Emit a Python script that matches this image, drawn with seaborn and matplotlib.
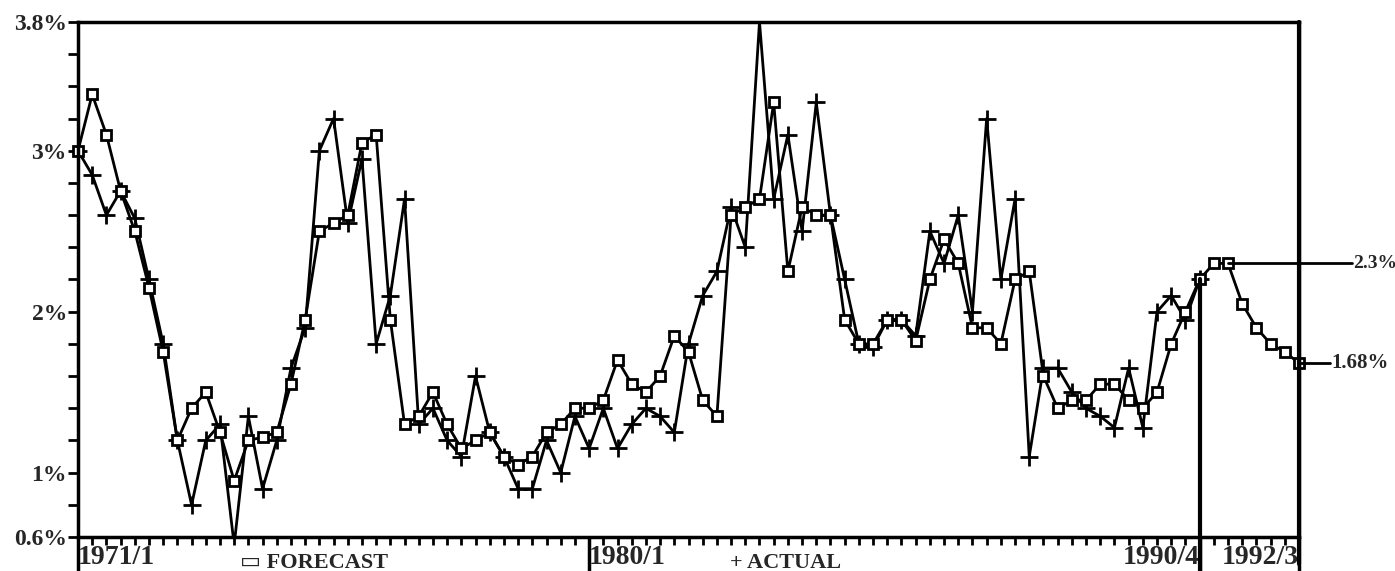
import matplotlib
matplotlib.use("Agg")
import matplotlib.pyplot as plt
import numpy as np
import pandas as pd
import seaborn as sns

# ==============================================================================
# Data: quarterly values, 1971/1 .. 1992/3 (forecast), 1971/1 .. 1990/4 (actual)
# ==============================================================================
start_year = 1971
forecast = [
    3.00, 3.35, 3.10, 2.75, 2.50, 2.15, 1.75, 1.20, 1.40, 1.50,
    1.25, 0.95, 1.20, 1.22, 1.25, 1.55, 1.95, 2.50, 2.55, 2.60,
    3.05, 3.10, 1.95, 1.30, 1.35, 1.50, 1.30, 1.15, 1.20, 1.25,
    1.10, 1.05, 1.10, 1.25, 1.30, 1.40, 1.40, 1.45, 1.70, 1.55,
    1.50, 1.60, 1.85, 1.75, 1.45, 1.35, 2.60, 2.65, 2.70, 3.30,
    2.25, 2.65, 2.60, 2.60, 1.95, 1.80, 1.80, 1.95, 1.95, 1.82,
    2.20, 2.45, 2.30, 1.90, 1.90, 1.80, 2.20, 2.25, 1.60, 1.40,
    1.45, 1.45, 1.55, 1.55, 1.45, 1.40, 1.50, 1.80, 2.00, 2.20,
    2.30, 2.30, 2.05, 1.90, 1.80, 1.75, 1.68,
]
actual = [
    3.00, 2.85, 2.60, 2.75, 2.58, 2.20, 1.80, 1.20, 0.80, 1.20,
    1.30, 0.55, 1.35, 0.90, 1.20, 1.65, 1.90, 3.00, 3.20, 2.55,
    2.95, 1.80, 2.10, 2.70, 1.30, 1.40, 1.20, 1.10, 1.60, 1.25,
    1.10, 0.90, 0.90, 1.20, 1.00, 1.35, 1.15, 1.40, 1.15, 1.30,
    1.40, 1.35, 1.25, 1.80, 2.10, 2.25, 2.65, 2.40, 3.80, 2.70,
    3.10, 2.50, 3.30, 2.60, 2.20, 1.80, 1.78, 1.95, 1.95, 1.85,
    2.50, 2.30, 2.60, 2.00, 3.20, 2.20, 2.70, 1.10, 1.65, 1.65,
    1.50, 1.40, 1.35, 1.28, 1.65, 1.28, 2.00, 2.10, 1.95, 2.20,
]
tick_labels = ["1971/1", "1980/1", "1990/4", "1992/3"]
y_labels = ["0.6%", "1%", "2%", "3%", "3.8%"]
y_label_values = [0.6, 1.0, 2.0, 3.0, 3.8]
peak_label = "2.3%"
last_label = "1.68%"


def quarter_index(label):
    year, q = label.split("/")
    return (int(year) - start_year) * 4 + int(q) - 1


df_f = pd.DataFrame({"q": np.arange(len(forecast)), "value": forecast})
df_a = pd.DataFrame({"q": np.arange(len(actual)), "value": actual})

# ==============================================================================
# Figure
# ==============================================================================
sns.set_style("white")
plt.rcParams["font.family"] = ["Liberation Serif", "DejaVu Sans"]
plt.rcParams["font.weight"] = "bold"

fig = plt.figure(figsize=(13.95, 5.71), dpi=100)
ax = fig.add_axes([78 / 1395, 1 - 537 / 571, 1221 / 1395, 515 / 571])

sns.lineplot(data=df_a, x="q", y="value", ax=ax, color="black", linewidth=2.0,
             marker="+", markersize=13, markeredgecolor="black",
             markeredgewidth=2.0, clip_on=True)
sns.lineplot(data=df_f, x="q", y="value", ax=ax, color="black", linewidth=2.0,
             marker="s", markersize=7, markerfacecolor="white",
             markeredgecolor="black", markeredgewidth=2.0, clip_on=False)

ax.set_xlim(0, len(forecast) - 1)
ax.set_ylim(0.6, 3.8)
ax.set_xlabel("")
ax.set_ylabel("")

# Spines
for side in ["left", "right", "top", "bottom"]:
    ax.spines[side].set_color("black")
    ax.spines[side].set_linewidth(2.5)

# Y ticks every 0.2, labelled only at a few values
ax.set_yticks(np.round(np.arange(0.6, 3.81, 0.2), 1), minor=True)
ax.set_yticks(y_label_values)
ax.set_yticklabels(y_labels, fontsize=17, fontweight="bold")
ax.tick_params(axis="y", which="both", left=True, direction="out", length=7,
               width=2, color="black", pad=1)

# X ticks every quarter, labelled at four dates
ax.set_xticks(np.arange(len(forecast)), minor=True)
major_q = [quarter_index(t) for t in tick_labels]
ax.set_xticks(major_q)
ax.set_xticklabels(tick_labels, fontsize=20, fontweight="bold")
for lab, ha in zip(ax.get_xticklabels(), ["left", "left", "right", "right"]):
    lab.set_ha(ha)
ax.tick_params(axis="x", which="minor", bottom=True, direction="out",
               length=6, width=2, color="black")
ax.tick_params(axis="x", which="major", bottom=True, direction="out",
               length=26, width=2.5, color="black", pad=-20)

# Legend-like labels in the date row
ax.text(0.133, -0.05, "\u25ad FORECAST", transform=ax.transAxes, fontsize=16,
        fontweight="bold", va="center", ha="left")
ax.text(0.534, -0.05, "+ ACTUAL", transform=ax.transAxes, fontsize=16,
        fontweight="bold", va="center", ha="left")

# Vertical marker at end of actual data, and extended right edge
end_q = quarter_index("1990/4")
ax.plot([end_q, end_q], [0.39, forecast[end_q]], color="black", linewidth=3,
        clip_on=False)
last_q = len(forecast) - 1
ax.plot([last_q, last_q], [0.43, 3.8], color="black", linewidth=3,
        clip_on=False)

# Annotations on the right
peak_q = int(np.argmax(forecast[end_q:])) + end_q + 1
ax.plot([peak_q, 89.7], [2.3, 2.3], color="black", linewidth=2, clip_on=False)
ax.text(89.8, 2.3, peak_label, fontsize=14, fontweight="bold", va="center",
        ha="left")
ax.plot([last_q, 88.2], [forecast[-1], forecast[-1]], color="black",
        linewidth=2, clip_on=False)
ax.text(88.3, forecast[-1], last_label, fontsize=15, fontweight="bold",
        va="center", ha="left")

fig.savefig("out.png", dpi=100)
